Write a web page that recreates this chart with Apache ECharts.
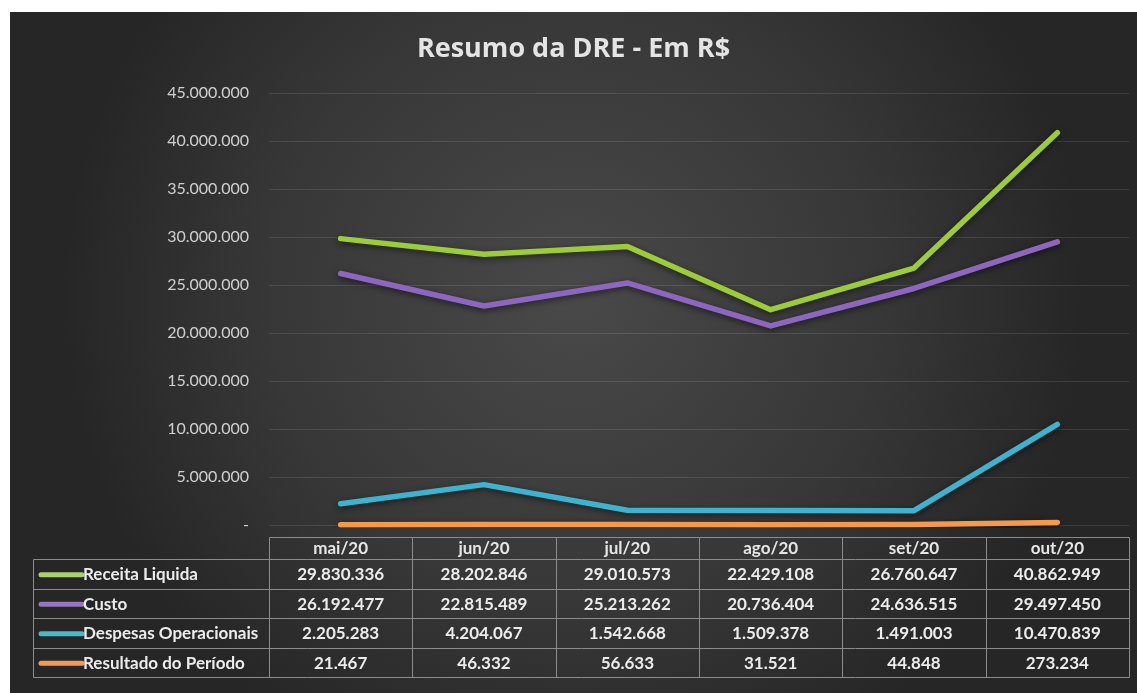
<!DOCTYPE html>
<html>
<head>
<meta charset="utf-8">
<script src="https://cdn.jsdelivr.net/npm/echarts@6/dist/echarts.min.js"></script>
<style>
  html, body { margin: 0; padding: 0; background: #fff; }
  #chart { position: absolute; left: 10px; top: 12px; width: 1127px; height: 681px; }
</style>
</head>
<body>
<div id="chart"></div>
<script>
// meses (categorias)
const months = ['mai/20', 'jun/20', 'jul/20', 'ago/20', 'set/20', 'out/20'];

// séries
const seriesNames = ['Receita Liquida', 'Custo', 'Despesas Operacionais', 'Resultado do Período'];
const receita = [29830336, 28202846, 29010573, 22429108, 26760647, 40862949];
const custo = [26192477, 22815489, 25213262, 20736404, 24636515, 29497450];
const despesas = [2205283, 4204067, 1542668, 1509378, 1491003, 10470839];
const resultado = [21467, 46332, 56633, 31521, 44848, 273234];

const seriesData = [receita, custo, despesas, resultado];
const colors = ['#9ccc3a', '#8e66bf', '#3db3cf', '#f5994a'];
const keyColors = ['#a9cf6e', '#9674c2', '#4bb8c8', '#f39a55'];

// eixo Y
const yMin = 0;
const yMax = 45000000;
const yStep = 5000000;

// número no formato brasileiro (ponto como separador de milhar)
function fmt(v) {
  if (v === 0) return '-';
  return String(v).replace(/\B(?=(\d{3})+(?!\d))/g, '.');
}

const chart = echarts.init(document.getElementById('chart'));

const option = {
  backgroundColor: {
    type: 'radial', x: 0.5, y: 0.42, r: 0.75,
    colorStops: [
      { offset: 0, color: '#494949' },
      { offset: 0.6, color: '#373737' },
      { offset: 1, color: '#262626' }
    ]
  },
  animation: false,
  title: {
    text: 'Resumo da DRE - Em R$',
    left: 'center',
    top: 19,
    textStyle: { color: '#e4e4e4', fontSize: 27, fontWeight: 'bold', fontFamily: 'Open Sans' }
  },
  grid: { left: 259, right: 8, top: 81, bottom: 168 },
  xAxis: {
    type: 'category',
    data: months,
    boundaryGap: true,
    axisLine: { show: false },
    axisTick: { show: false },
    axisLabel: { show: false }
  },
  yAxis: {
    type: 'value',
    min: yMin,
    max: yMax,
    interval: yStep,
    axisLine: { show: false },
    axisTick: { show: false },
    axisLabel: {
      color: '#d0d0d0', fontSize: 16, fontFamily: 'Lato', margin: 20,
      formatter: fmt
    },
    splitLine: { lineStyle: { color: 'rgba(255,255,255,0.11)', width: 1 } }
  },
  series: seriesData.map((d, i) => ({
    name: seriesNames[i],
    type: 'line',
    data: d,
    symbol: 'none',
    lineStyle: {
      color: colors[i], width: 5.5, cap: 'round', join: 'round',
      shadowColor: 'rgba(0,0,0,0.55)', shadowBlur: 6, shadowOffsetY: 2
    },
    z: 4 - i
  }))
};

chart.setOption(option);

// tabela de dados abaixo do gráfico
function buildTable() {
  const c0 = chart.convertToPixel({ xAxisIndex: 0 }, months[0]);
  const c1 = chart.convertToPixel({ xAxisIndex: 0 }, months[1]);
  const band = c1 - c0;
  const colLeft = c0 - band / 2;
  const colRight = colLeft + band * months.length;
  const tableLeft = 23;
  const headTop = 525;
  const headBottom = 547;
  const rowH = 29.5;
  const rowBottom = headBottom + rowH * seriesNames.length;
  const border = { stroke: '#8c8c8c', lineWidth: 1 };
  const els = [];

  const line = (x1, y1, x2, y2) => els.push({
    type: 'line', silent: true,
    shape: { x1: Math.round(x1) + 0.5, y1: Math.round(y1) + 0.5, x2: Math.round(x2) + 0.5, y2: Math.round(y2) + 0.5 },
    style: border
  });
  const text = (t, x, y, align, color) => els.push({
    type: 'text', silent: true,
    style: {
      text: t, x: x, y: y, align: align, verticalAlign: 'middle',
      textAlign: align, textVerticalAlign: 'middle',
      fill: color || '#ececec', font: 'bold 17px Lato'
    }
  });

  // linhas horizontais
  line(colLeft, headTop, colRight, headTop);
  for (let r = 0; r <= seriesNames.length; r++) {
    const y = headBottom + r * rowH;
    line(tableLeft, y, colRight, y);
  }
  // linhas verticais
  line(tableLeft, headBottom, tableLeft, rowBottom);
  for (let c = 0; c <= months.length; c++) {
    const x = colLeft + c * band;
    line(x, headTop, x, rowBottom);
  }
  // cabeçalho
  months.forEach((m, c) => text(m, colLeft + (c + 0.5) * band, (headTop + headBottom) / 2 + 1, 'center', '#e6e6e6'));
  // linhas de dados
  seriesNames.forEach((name, r) => {
    const yc = headBottom + (r + 0.5) * rowH + 1;
    els.push({
      type: 'line', silent: true,
      shape: { x1: 31, y1: yc, x2: 72, y2: yc },
      style: { stroke: keyColors[r], lineWidth: 5, lineCap: 'round' }
    });
    text(name, 73, yc, 'left');
    seriesData[r].forEach((v, c) => text(fmt(v), colLeft + (c + 0.5) * band, yc, 'center'));
  });

  chart.setOption({ graphic: { elements: els } });
}
buildTable();
</script>
</body>
</html>
